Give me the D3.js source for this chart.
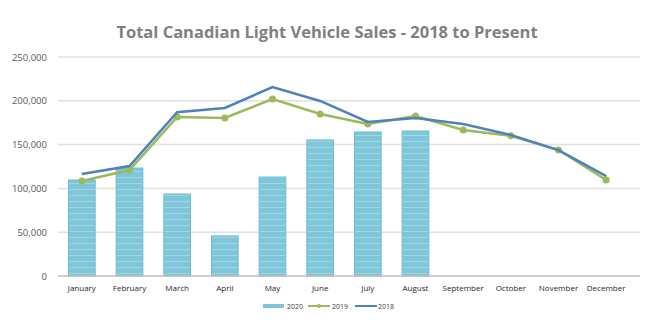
<html>
<head>
<meta charset="utf-8">
<title>Total Canadian Light Vehicle Sales</title>
<style type="text/css">
    body { margin: 0; background: #fff; }
    text { font-family: "Open Sans", "DejaVu Sans", sans-serif; }
</style>
</head>
<body>
<script src="https://d3js.org/d3.v7.min.js"></script>
<script>

    // data
    var months = ["January", "February", "March", "April", "May", "June",
        "July", "August", "September", "October", "November", "December"];
    var sales2020 = [109600, 123300, 93600, 45700, 113000, 155300, 164400, 165500];
    var sales2019 = [108400, 121000, 181500, 180400, 202000, 185000, 173500, 182600, 166700, 160000, 143800, 109600];
    var sales2018 = [116400, 125600, 187000, 191800, 215700, 199800, 175800, 180400, 173500, 161000, 143800, 114000];
    var yTicks = [0, 50000, 100000, 150000, 200000, 250000];

    var width = 650, height = 333;
    var margin = {top: 57, right: 10, bottom: 57, left: 58};

    var svg = d3.select("body").append("svg")
        .attr("width", width)
        .attr("height", height);

    // stripy fill for the bars
    var defs = svg.append("defs");
    var pat = defs.append("pattern")
        .attr("id", "stripes")
        .attr("patternUnits", "userSpaceOnUse")
        .attr("width", 10)
        .attr("height", 6);
    pat.append("rect").attr("width", 10).attr("height", 6).attr("fill", "#80c6da");
    pat.append("rect").attr("y", 3).attr("width", 10).attr("height", 1).attr("fill", "#a3d6e5");

    var x = d3.scaleBand()
        .domain(months)
        .range([margin.left, width - margin.right - 10]);
    var y = d3.scaleLinear()
        .domain([0, 250000])
        .range([height - margin.bottom, margin.top]);

    // title
    svg.append("text")
        .attr("x", 327)
        .attr("y", 38)
        .attr("text-anchor", "middle")
        .style("font-size", "16.5px")
        .style("font-weight", "bold")
        .style("fill", "#808080")
        .text("Total Canadian Light Vehicle Sales - 2018 to Present");

    // grid lines
    svg.append("g").selectAll("line")
        .data(yTicks.slice(1))
        .enter().append("line")
        .attr("x1", margin.left)
        .attr("x2", width - 10)
        .attr("y1", function(d) { return y(d); })
        .attr("y2", function(d) { return y(d); })
        .style("stroke", "#e0e0e0")
        .style("stroke-width", 1.5);

    // y axis labels
    var yAxis = svg.append("g")
        .attr("transform", "translate(" + (margin.left - 8) + ",0)")
        .call(d3.axisLeft(y).tickValues(yTicks).tickSize(0).tickFormat(d3.format(",")));
    yAxis.select(".domain").remove();
    yAxis.selectAll("text")
        .style("font-size", "9.5px")
        .style("fill", "#595959");

    // bars
    svg.append("g").selectAll("rect")
        .data(sales2020)
        .enter().append("rect")
        .attr("x", function(d, i) { return x(months[i]) + x.bandwidth() * 0.22; })
        .attr("width", x.bandwidth() * 0.56)
        .attr("y", function(d) { return y(d); })
        .attr("height", function(d) { return y(0) - y(d); })
        .style("fill", "url(#stripes)")
        .style("stroke", "#6bbdd3")
        .style("stroke-width", 1);

    // x axis
    svg.append("line")
        .attr("x1", margin.left)
        .attr("x2", width - 10)
        .attr("y1", y(0))
        .attr("y2", y(0))
        .style("stroke", "#bfbfbf")
        .style("stroke-width", 1.5);

    svg.append("g").selectAll("text")
        .data(months)
        .enter().append("text")
        .attr("x", function(d) { return x(d) + x.bandwidth() / 2; })
        .attr("y", 291)
        .attr("text-anchor", "middle")
        .style("font-size", "8px")
        .style("fill", "#262626")
        .text(function(d) { return d; });

    var line = d3.line()
        .x(function(d, i) { return x(months[i]) + x.bandwidth() / 2; })
        .y(function(d) { return y(d); });

    svg.append("path")
        .datum(sales2019)
        .attr("d", line)
        .style("fill", "none")
        .style("stroke", "#9bbb59")
        .style("stroke-width", 2.5);

    svg.append("g").selectAll("circle")
        .data(sales2019)
        .enter().append("circle")
        .attr("cx", function(d, i) { return x(months[i]) + x.bandwidth() / 2; })
        .attr("cy", function(d) { return y(d); })
        .attr("r", 3.5)
        .style("fill", "#9bbb59");

    svg.append("path")
        .datum(sales2018)
        .attr("d", line)
        .style("fill", "none")
        .style("stroke", "#4f81bd")
        .style("stroke-width", 2.5);

    // legend
    var lg = svg.append("g").attr("transform", "translate(0,307)");
    lg.append("rect").attr("x", 263).attr("y", -3).attr("width", 21).attr("height", 4).style("fill", "#7fc5d9");
    lg.append("text").attr("x", 287).attr("y", 2).text("2020");
    lg.append("line").attr("x1", 308).attr("x2", 330).attr("y1", -1).attr("y2", -1)
        .style("stroke", "#9bbb59").style("stroke-width", 2);
    lg.append("circle").attr("cx", 319).attr("cy", -1).attr("r", 2).style("fill", "#9bbb59");
    lg.append("text").attr("x", 332).attr("y", 2).text("2019");
    lg.append("line").attr("x1", 355).attr("x2", 377).attr("y1", -1).attr("y2", -1)
        .style("stroke", "#4f81bd").style("stroke-width", 2);
    lg.append("text").attr("x", 378).attr("y", 2).text("2018");
    lg.selectAll("text").style("font-size", "7px").style("fill", "#404040");

</script>
</body>
</html>
